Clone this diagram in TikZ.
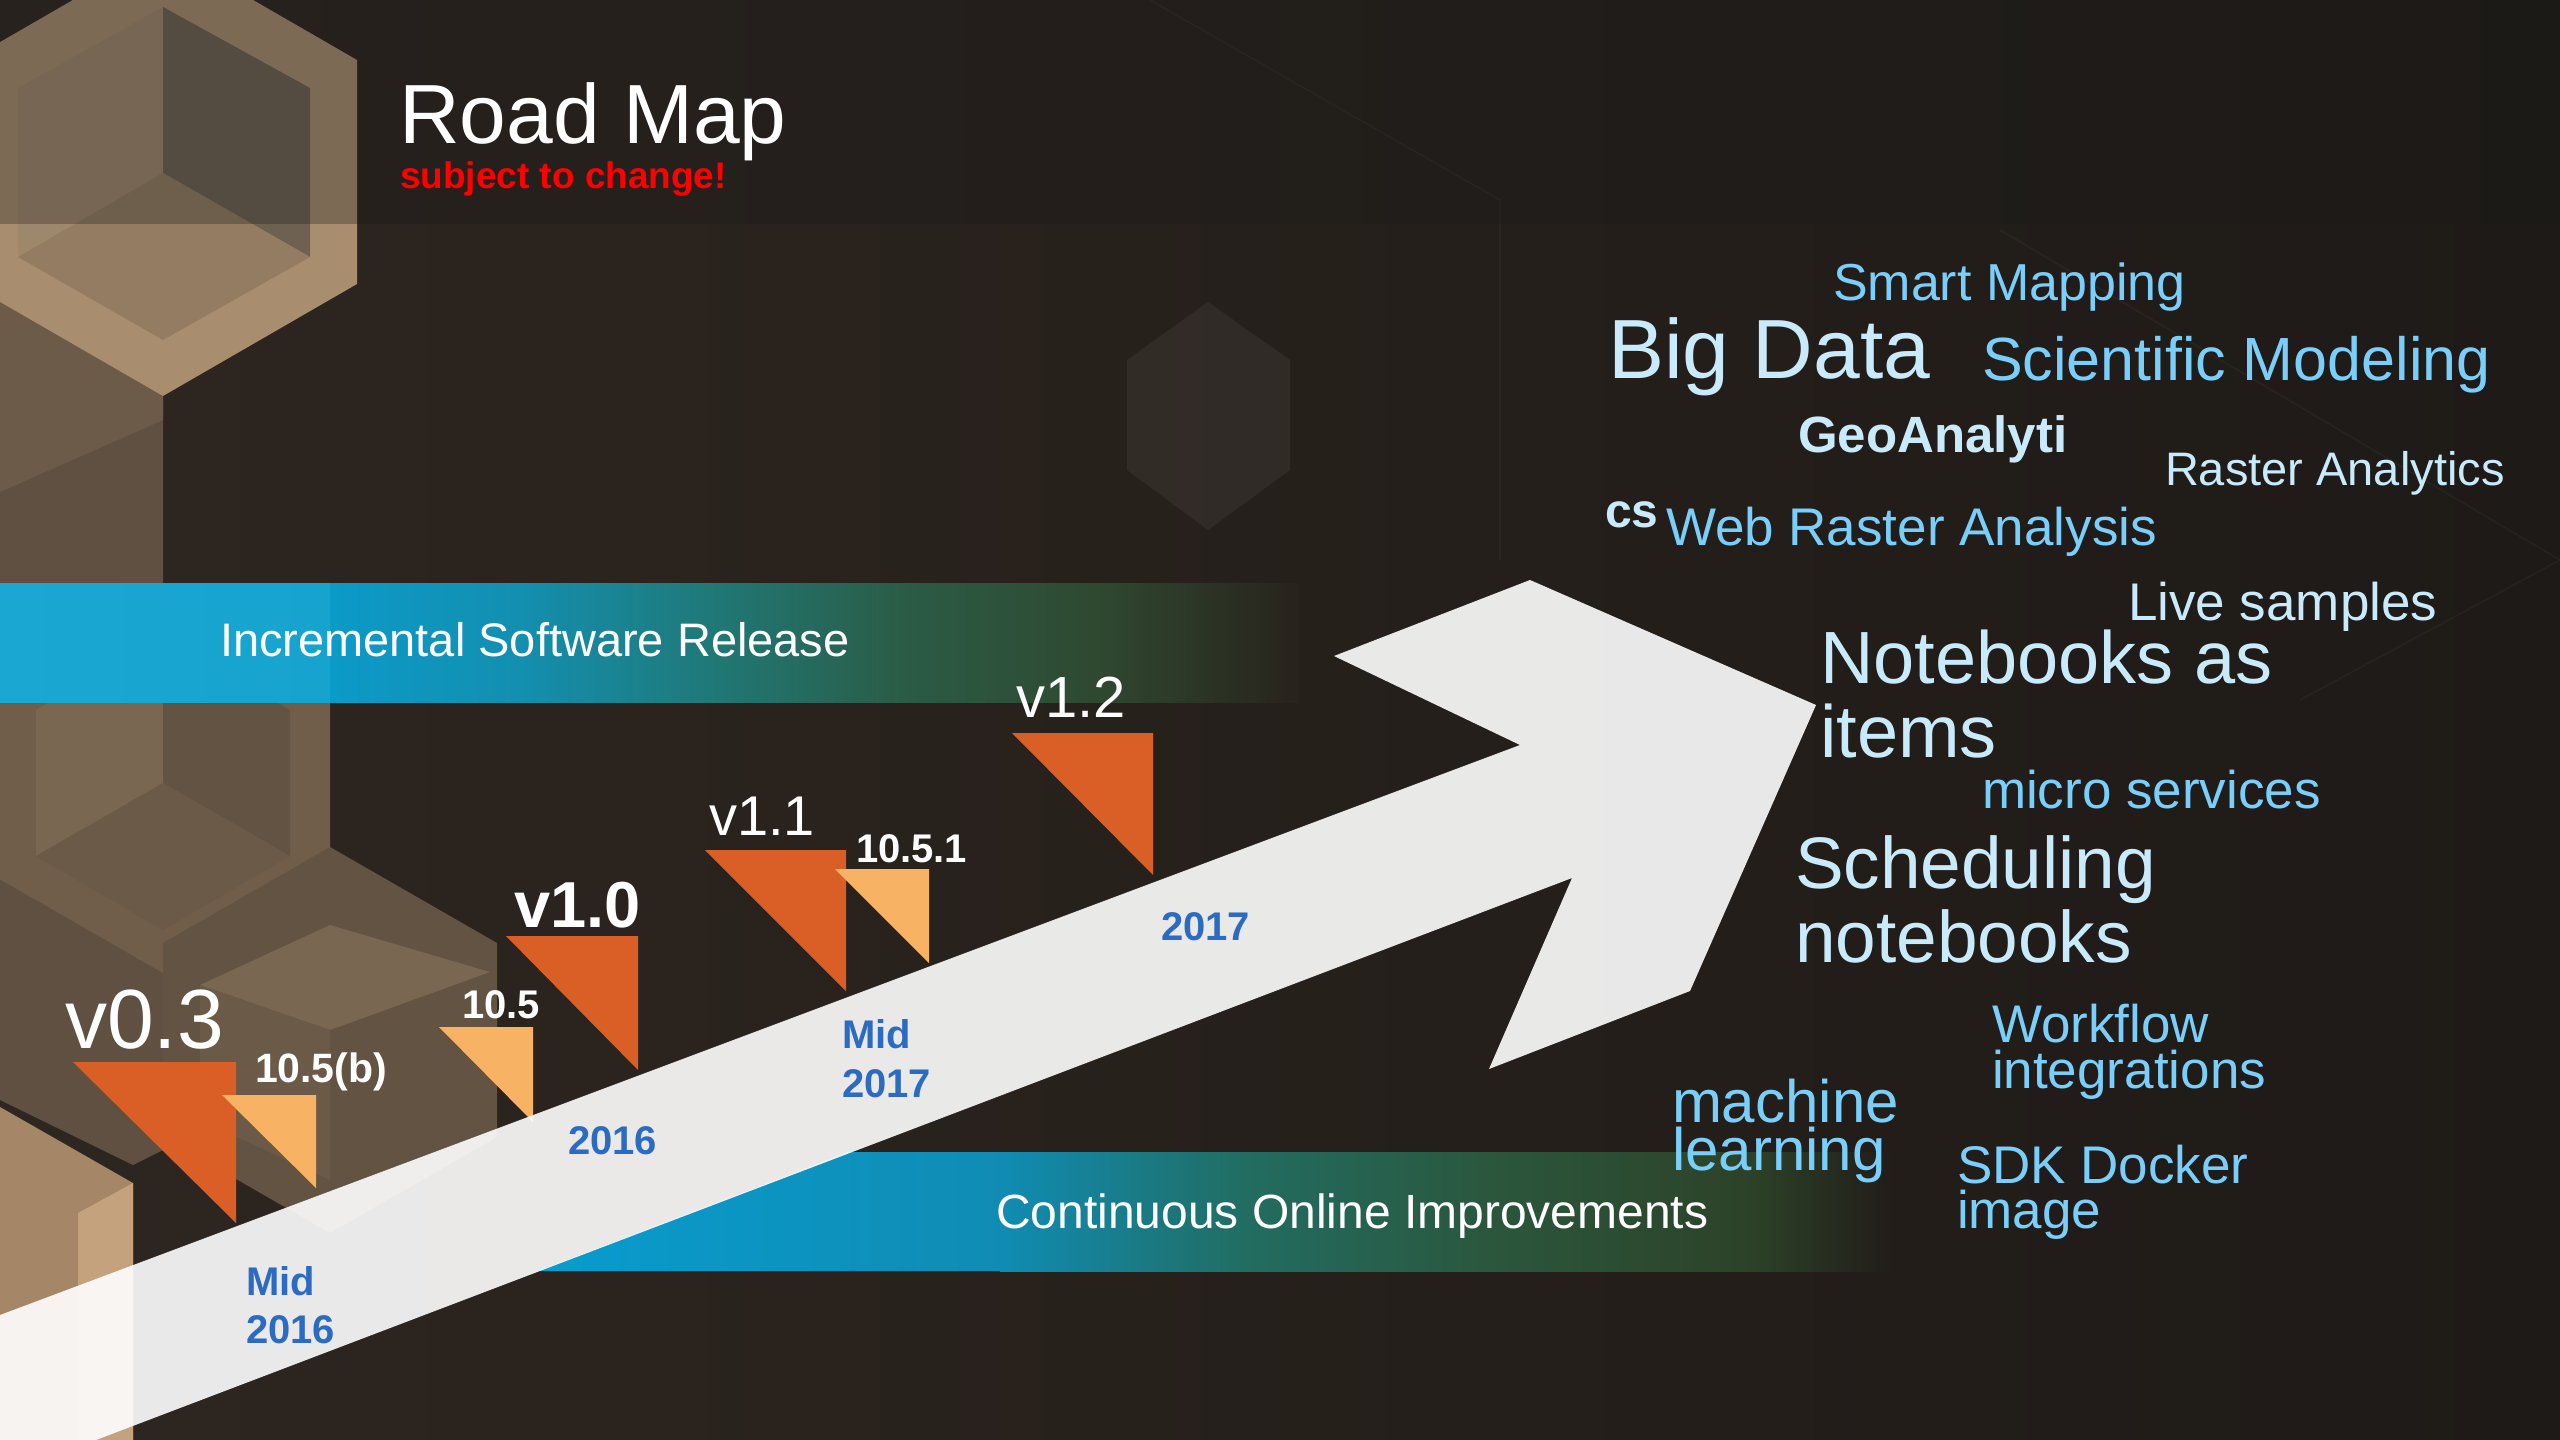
\documentclass[tikz,border=0pt]{standalone}
\usepackage{fontspec}
\setmainfont{Liberation Sans}
\definecolor{dor}{RGB}{217,95,39}
\definecolor{lor}{RGB}{247,178,100}
\definecolor{bblue}{RGB}{122,206,250}
\definecolor{pblue}{RGB}{200,234,251}
\definecolor{dblue}{RGB}{44,107,194}
\definecolor{redc}{RGB}{255,0,0}
\definecolor{bgA}{RGB}{46,38,32}
\definecolor{bgB}{RGB}{30,26,23}
\definecolor{frameT}{RGB}{168,142,111}
\definecolor{faceL}{RGB}{158,136,108}
\definecolor{faceR}{RGB}{110,97,82}
\definecolor{faceB}{RGB}{147,124,98}
\definecolor{brnA}{RGB}{95,80,65}
\definecolor{brnB}{RGB}{108,91,73}
\definecolor{hexF}{RGB}{112,94,75}
\definecolor{hexL}{RGB}{122,103,81}
\definecolor{hexR}{RGB}{99,83,66}
\definecolor{hexB}{RGB}{107,90,71}
\definecolor{colA}{RGB}{165,134,102}
\definecolor{colB}{RGB}{195,162,125}
\definecolor{topov}{RGB}{26,26,26}
% band 1
\definecolor{ba0}{RGB}{26,168,210}
\definecolor{ba1}{RGB}{22,164,207}
\definecolor{ba2}{RGB}{12,154,200}
\definecolor{ba3}{RGB}{19,143,176}
\definecolor{ba4}{RGB}{31,122,122}
\definecolor{ba5}{RGB}{43,92,70}
\definecolor{ba6}{RGB}{47,72,48}
\definecolor{ba7}{RGB}{40,34,28}
% band 2
\definecolor{bb0}{RGB}{8,156,206}
\definecolor{bb1}{RGB}{16,140,180}
\definecolor{bb2}{RGB}{34,108,96}
\definecolor{bb3}{RGB}{43,86,60}
\definecolor{bb4}{RGB}{44,66,40}
\definecolor{bb5}{RGB}{34,29,25}
\begin{document}
\begin{tikzpicture}[x=1pt,y=-1pt,
  lbl/.style={inner sep=0pt, outer sep=0pt, anchor=base west},
  rg/.style={lbl, font=\fontsize{#1}{#1}\selectfont},
  bd/.style={lbl, font=\fontsize{#1}{#1}\selectfont\bfseries},
  date/.style={bd=40, text=dblue},
  relbig/.style={text=white},
  cloudA/.style={text=bblue},
  cloudB/.style={text=pblue},
  darktri/.style={fill=dor},
  lighttri/.style={fill=lor}]
\useasboundingbox (0,0) rectangle (2560,1440);
% background
\shade[left color=bgA, right color=bgB] (0,0) rectangle (2560,1440);
% faint hexagon texture
\fill[white, opacity=0.05] (1208,302) -- (1290,360) -- (1290,470) -- (1208,530) -- (1127,470) -- (1127,360) -- cycle;
\draw[white, opacity=0.04, line width=1.5pt] (1150,0) -- (1500,200) -- (1500,560);
\draw[white, opacity=0.035, line width=1.5pt] (2000,230) -- (2560,560);
\draw[white, opacity=0.035, line width=1.5pt] (2300,700) -- (2560,560);
% left brown column
\fill[brnA] (0,250) -- (163,340) -- (163,1150) -- (133,1165) -- (0,1100) -- cycle;
\fill[brnB] (0,284) -- (163,396) -- (163,420) -- (0,492) -- cycle;
% top hexagon (cube)
\fill[frameT] (163,-52) -- (357,60) -- (357,284) -- (163,396) -- (-31,284) -- (-31,60) -- cycle;
\fill[faceL] (163,7) -- (18,88) -- (18,257) -- (163,173) -- cycle;
\fill[faceR] (163,7) -- (310,88) -- (310,257) -- (163,173) -- cycle;
\fill[faceB] (163,173) -- (310,257) -- (163,340) -- (18,257) -- cycle;
% hexagon 2
\fill[hexF] (163,587) -- (330,683) -- (330,877) -- (163,973) -- (-4,877) -- (-4,683) -- cycle;
\fill[hexL] (163,636) -- (36,710) -- (36,856) -- (163,783) -- cycle;
\fill[hexR] (163,636) -- (290,710) -- (290,856) -- (163,783) -- cycle;
\fill[hexB] (163,783) -- (290,856) -- (163,930) -- (36,856) -- cycle;
% hexagon 3
\fill[hexR] (330,847) -- (497,943) -- (497,1137) -- (330,1233) -- (163,1137) -- (163,943) -- cycle;
\fill[hexL] (330,925) -- (490,972) -- (330,1030) -- (200,985) -- cycle;
\fill[hexB] (200,985) -- (330,1030) -- (330,1180) -- (200,1120) -- cycle;
% bottom-left light column
\fill[colA] (0,1107) -- (133,1183) -- (133,1440) -- (0,1440) -- cycle;
\fill[colB] (78,1213) -- (133,1183) -- (133,1440) -- (78,1440) -- cycle;
% top banner overlay
\fill[topov, opacity=0.3] (0,0) rectangle (2560,224);
% band 1: Incremental Software Release
\shade[left color=ba0, right color=ba1] (0,583) rectangle (331,702);
\shade[left color=ba2, right color=ba3] (330,583) rectangle (521,702);
\shade[left color=ba3, right color=ba4] (520,583) rectangle (701,702);
\shade[left color=ba4, right color=ba5] (700,583) rectangle (901,702);
\shade[left color=ba5, right color=ba6] (900,583) rectangle (1101,702);
\shade[left color=ba6, right color=ba7] (1100,583) rectangle (1300,702);
% band 2: Continuous Online Improvements
\shade[left color=bb0, right color=bb1] (848,1152) -- (1001,1152) -- (1001,1271) -- (538,1271) -- cycle;
\shade[left color=bb1, right color=bb2] (1000,1152) rectangle (1251,1271);
\shade[left color=bb2, right color=bb3] (1250,1152) rectangle (1501,1271);
\shade[left color=bb3, right color=bb4] (1500,1152) rectangle (1751,1271);
\shade[left color=bb4, right color=bb5] (1750,1152) rectangle (1890,1271);
% release triangles
\fill[darktri] (73,1062) -- (236,1062) -- (236,1223) -- cycle;
\fill[lighttri] (222,1095) -- (316,1095) -- (316,1188) -- cycle;
\fill[lighttri] (439,1027) -- (533,1027) -- (533,1122) -- cycle;
\fill[darktri] (506,936) -- (638,936) -- (638,1070) -- cycle;
\fill[darktri] (705,850) -- (846,850) -- (846,991) -- cycle;
\fill[lighttri] (835,869) -- (929,869) -- (929,963) -- cycle;
\fill[darktri] (1012,733) -- (1153,733) -- (1153,875) -- cycle;
% big arrow
\fill[white, opacity=0.9] (0,1315) -- (1520,745) -- (1334,656) -- (1530,580) -- (1816,705) -- (1690,991) -- (1489,1069) -- (1572,878) -- (96,1440) -- (0,1440) -- cycle;
% titles
\node[rg=84, relbig] (roadmap) at (399,143) {Road Map};
\node[bd=37, text=redc] (subj) at (400,188) {subject to change!};
\node[rg=47, relbig] (isr) at (220,656) {Incremental Software Release};
\node[rg=48, relbig] (coi) at (996,1228) {Continuous Online Improvements};
% release labels
\node[rg=84, relbig] (v03) at (65,1048) {v0.3};
\node[bd=41, relbig] (r105b) at (255,1082) {10.5(b)};
\node[bd=40, relbig] (r105) at (462,1018) {10.5};
\node[bd=65, relbig] (v10) at (514,927) {v1.0};
\node[rg=56, relbig] (v11) at (709,835) {v1.1};
\node[bd=40, relbig] (r1051) at (856,862) {10.5.1};
\node[rg=58, relbig] (v12) at (1016,717) {v1.2};
% dates
\node[date] (mid16a) at (246,1295) {Mid};
\node[date] (mid16b) at (246,1343) {2016};
\node[date] (y2016) at (568,1154) {2016};
\node[date] (mid17a) at (842,1048) {Mid};
\node[date] (mid17b) at (842,1097) {2017};
\node[date] (y2017) at (1161,940) {2017};
% word cloud
\node[rg=52, cloudA] (smart) at (1833,300) {Smart Mapping};
\node[rg=84, cloudB] (bigdata) at (1608,378) {Big Data};
\node[rg=61, cloudA] (scimod) at (1982,380) {Scientific Modeling};
\node[bd=51, cloudB] (geoa) at (1798,452) {GeoAnalyti};
\node[bd=48, cloudB] (geob) at (1605,527) {cs};
\node[rg=53, cloudA] (webra) at (1666,545) {Web Raster Analysis};
\node[rg=47, cloudB] (rasteran) at (2165,485) {Raster Analytics};
\node[rg=53, cloudB] (live) at (2128,620) {Live samples};
\node[rg=74, cloudB] (nba) at (1820,683) {Notebooks as};
\node[rg=74, cloudB] (nbb) at (1820,757) {items};
\node[rg=53, cloudA] (micro) at (1982,808) {micro services};
\node[rg=73, cloudB] (scha) at (1795,888) {Scheduling};
\node[rg=73, cloudB] (schb) at (1795,962) {notebooks};
\node[rg=53, cloudA] (wfa) at (1992,1042) {Workflow};
\node[rg=53, cloudA] (wfb) at (1992,1088) {integrations};
\node[rg=60, cloudA] (mla) at (1672,1122) {machine};
\node[rg=60, cloudA] (mlb) at (1672,1170) {learning};
\node[rg=53, cloudA] (sdka) at (1957,1183) {SDK Docker};
\node[rg=53, cloudA] (sdkb) at (1957,1228) {image};
\end{tikzpicture}
\end{document}
